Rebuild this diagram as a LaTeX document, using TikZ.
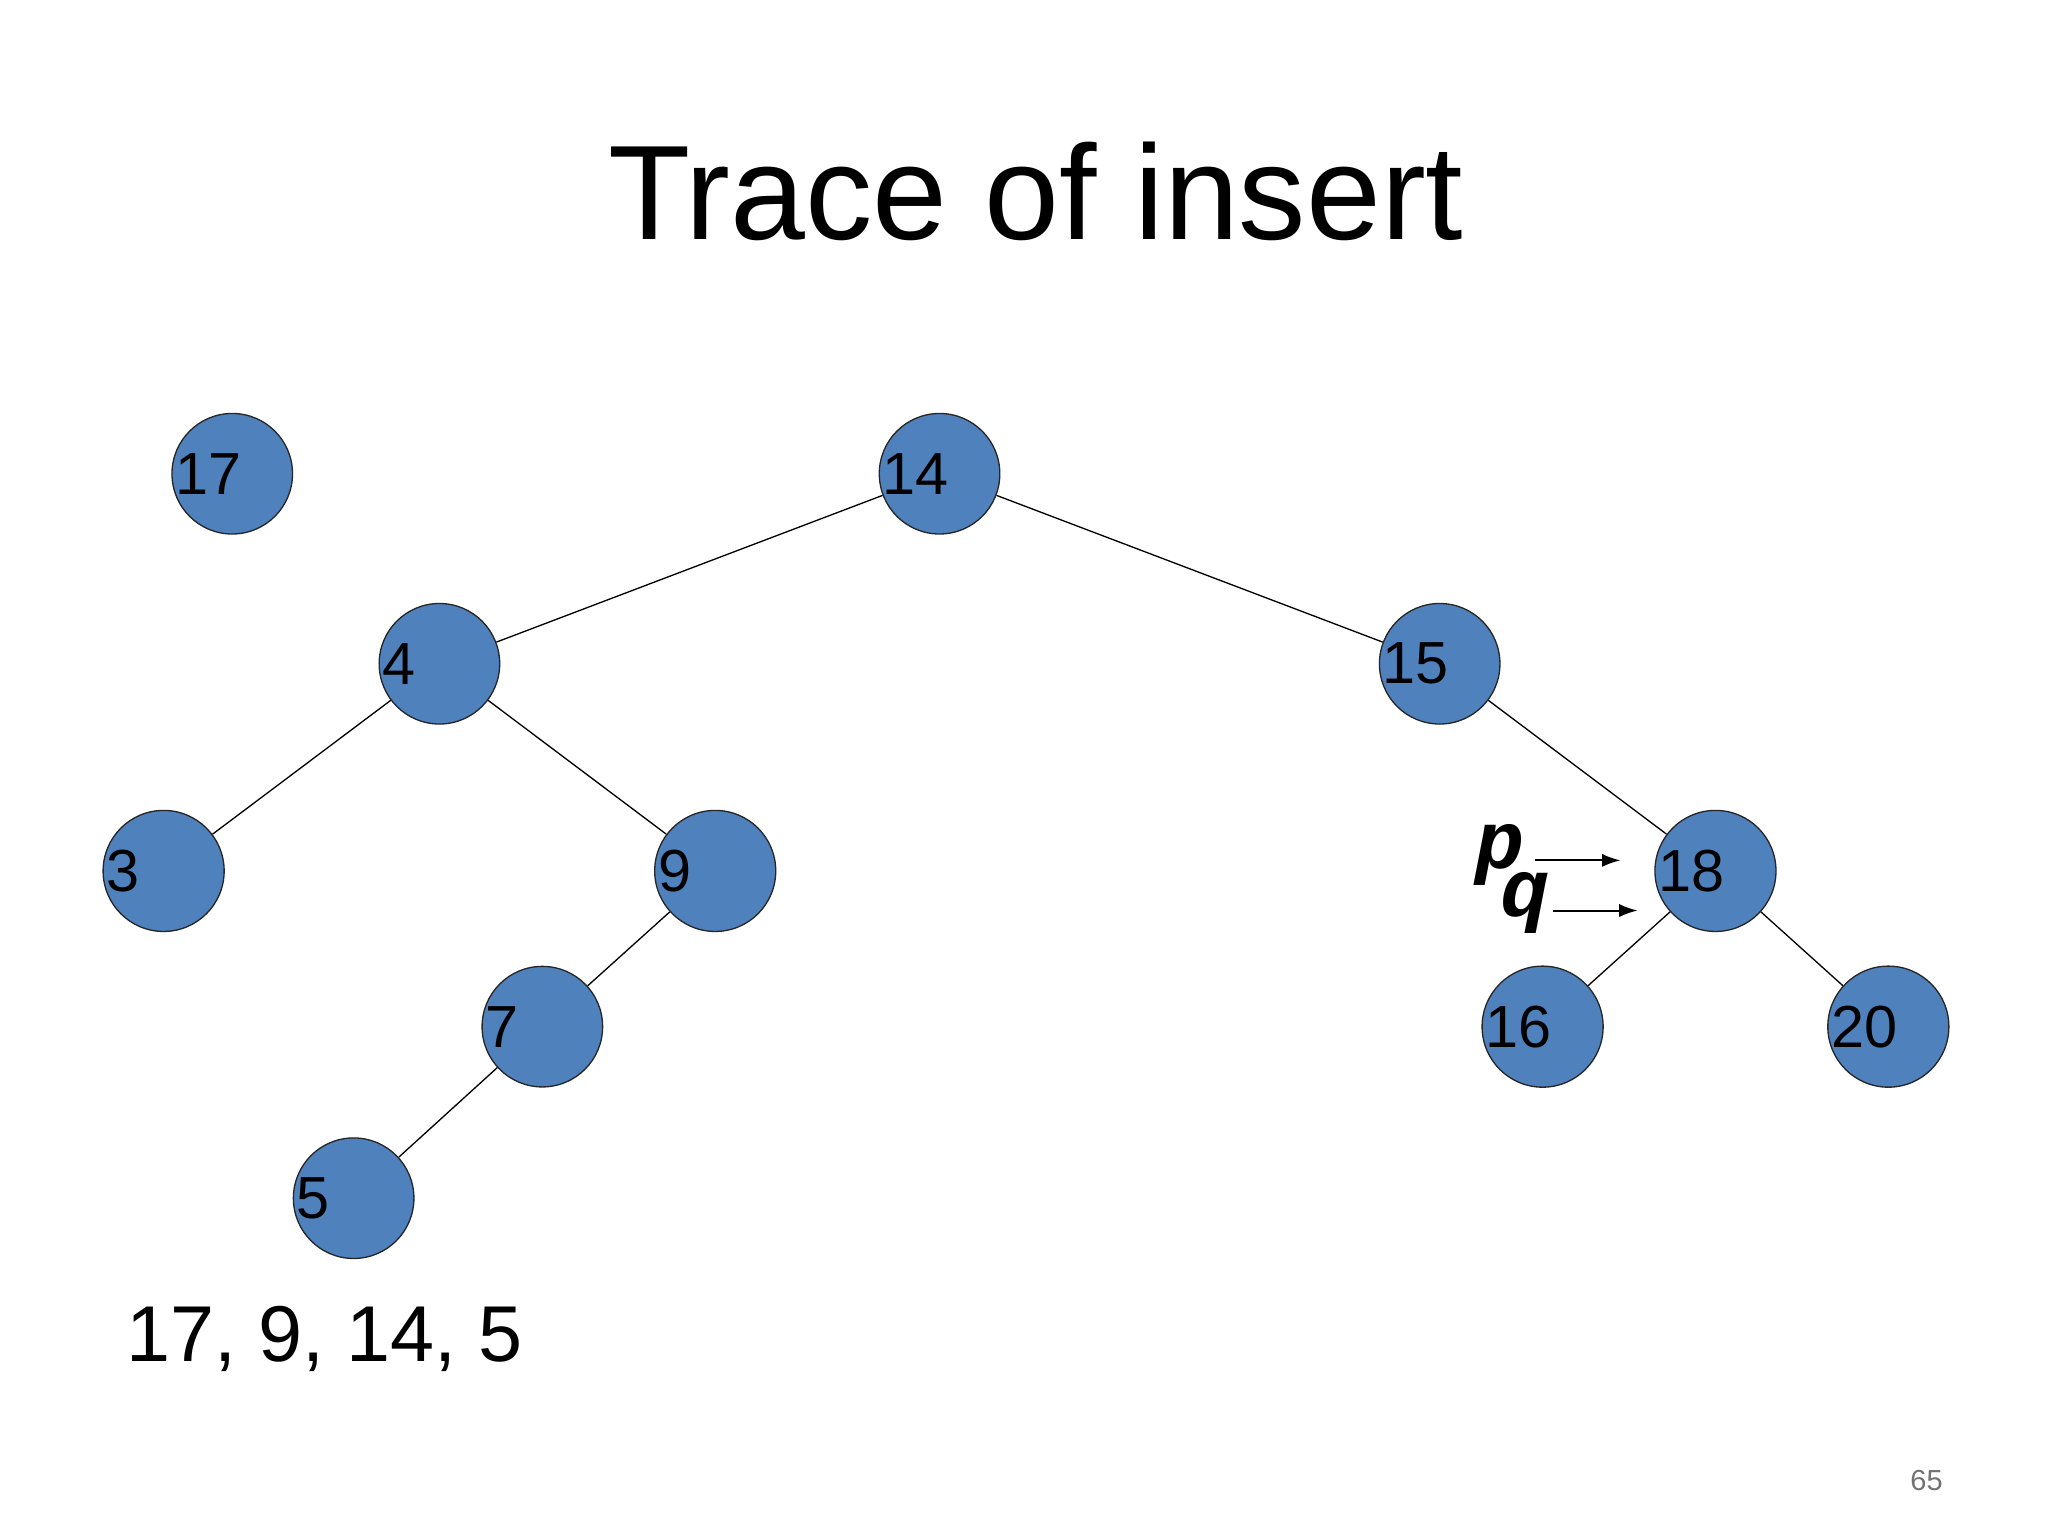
\documentclass[tikz,border=0pt]{standalone}
\usepackage{fontspec}
\usetikzlibrary{arrows.meta}
\setmainfont{Liberation Sans}
\setmonofont{Liberation Mono}
\begin{document}
\begin{tikzpicture}[x=1pt,y=-1pt,
  tn/.style={circle,draw=black!85,line width=1pt,fill={rgb,255:red,79;green,129;blue,189},minimum size=90pt,inner sep=0pt,font=\fontsize{45}{45}\selectfont},
  ed/.style={draw=black,line width=1pt},
  pq/.style={font=\fontsize{62}{62}\ttfamily\bfseries\itshape\selectfont},
  ar/.style={-{Latex[length=14pt,width=10pt]},line width=1.5pt}]
\useasboundingbox[fill=white] (0,0) rectangle (1552,1164);
\newcommand{\lab}[1]{\makebox[86pt][l]{#1}}
\node[tn] (n17) at (176,359) {\lab{17}};
\node[tn] (n14) at (712,359) {\lab{14}};
\node[tn] (n4) at (333,503) {\lab{4}};
\node[tn] (n15) at (1091,503) {\lab{15}};
\node[tn] (n3) at (124,660) {\lab{3}};
\node[tn] (n9) at (542,660) {\lab{9}};
\node[tn] (n18) at (1300,660) {\lab{18}};
\node[tn] (n7) at (411,778) {\lab{7}};
\node[tn] (n16) at (1169,778) {\lab{16}};
\node[tn] (n20) at (1431,778) {\lab{20}};
\node[tn] (n5) at (268,908) {\lab{5}};
\draw[ed] (n14) -- (n4);
\draw[ed] (n14) -- (n15);
\draw[ed] (n4) -- (n3);
\draw[ed] (n4) -- (n9);
\draw[ed] (n9) -- (n7);
\draw[ed] (n7) -- (n5);
\draw[ed] (n15) -- (n18);
\draw[ed] (n18) -- (n16);
\draw[ed] (n18) -- (n20);
\node[font=\fontsize{102}{102}\selectfont] (title) at (785,145) {Trace of insert};
\node[font=\fontsize{60}{60}\selectfont,anchor=west] (seq) at (92,1015) {17, 9, 14, 5};
\node[font=\fontsize{22}{22}\selectfont,text=black!55] (pg) at (1460,1122) {65};
\node[pq] (p) at (1137,648) {p};
\node[pq] (q) at (1156,684) {q};
\coordinate (ps) at (1163,652);
\coordinate (pa) at (1228,652);
\coordinate (qs) at (1177,690);
\coordinate (qa) at (1241,690);
\draw[ar] (ps) -- (pa);
\draw[ar] (qs) -- (qa);
\end{tikzpicture}
\end{document}
